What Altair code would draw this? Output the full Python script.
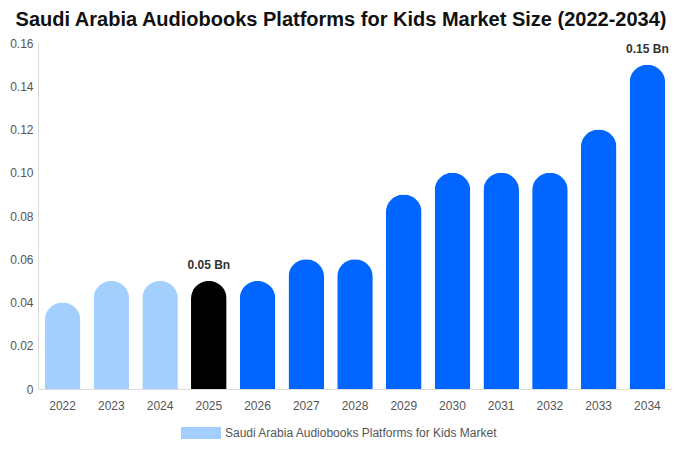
import altair as alt
import pandas as pd

years = ["2022", "2023", "2024", "2025", "2026", "2027", "2028", "2029", "2030", "2031", "2032", "2033", "2034"]
values = [0.04, 0.05, 0.05, 0.05, 0.05, 0.06, 0.06, 0.09, 0.10, 0.10, 0.10, 0.12, 0.15]
bar_colors = ["#a3cfff", "#a3cfff", "#a3cfff", "#000000", "#0066ff", "#0066ff", "#0066ff",
              "#0066ff", "#0066ff", "#0066ff", "#0066ff", "#0066ff", "#0066ff"]
labels = ["", "", "", "0.05 Bn", "", "", "", "", "", "", "", "", "0.15 Bn"]
series_name = "Saudi Arabia Audiobooks Platforms for Kids Market"

df = pd.DataFrame({"year": years, "value": values, "barcolor": bar_colors, "label": labels})
legend_df = pd.DataFrame({"year": [years[0]], "value": [0.0], "series": [series_name]})

FONT = "Liberation Sans"

x_enc = alt.X("year:N", sort=years,
              scale=alt.Scale(paddingInner=0.27, paddingOuter=0.14),
              axis=alt.Axis(title=None, labelAngle=0, ticks=False, domainColor="#dddddd",
                            labelColor="#555555", labelFontSize=12, labelPadding=11, labelFont=FONT))
y_enc = alt.Y("value:Q", scale=alt.Scale(domain=[0, 0.16], nice=False),
              axis=alt.Axis(title=None, values=[0, 0.02, 0.04, 0.06, 0.08, 0.10, 0.12, 0.14, 0.16],
                            labelExpr="datum.value == 0 ? '0' : format(datum.value, '.2f')",
                            grid=False, ticks=False, domainColor="#dddddd",
                            labelColor="#555555", labelFontSize=12, labelPadding=5, labelFont=FONT))

bars = alt.Chart(df).mark_bar(cornerRadiusTopLeft=18, cornerRadiusTopRight=18).encode(
    x=x_enc, y=y_enc, fill=alt.Fill("barcolor:N", scale=None)
)

text = alt.Chart(df).transform_filter("datum.label != ''").mark_text(
    dy=-16, fontWeight="bold", fontSize=12, font=FONT, color="#333333"
).encode(x=alt.X("year:N", sort=years), y="value:Q", text="label:N")

legend_layer = alt.Chart(legend_df).mark_bar().encode(
    x=alt.X("year:N", sort=years), y="value:Q",
    color=alt.Color("series:N", scale=alt.Scale(range=["#a3cfff"]),
                    legend=alt.Legend(title=None, orient="none", direction="horizontal",
                                      legendX=143, legendY=370, labelLimit=500,
                                      symbolType="M-1,-0.3L1,-0.3L1,0.3L-1,0.3Z",
                                      symbolSize=1600, symbolOpacity=1, symbolStrokeWidth=0,
                                      labelColor="#555555", labelFontSize=12, labelFont=FONT))
)

chart = alt.layer(bars, legend_layer, text).properties(
    width=634, height=346,
    title=alt.TitleParams(
        "Saudi Arabia Audiobooks Platforms for Kids Market Size (2022-2034)",
        fontSize=20, fontWeight="bold", font=FONT, color="#111111", dx=-14, offset=7
    ),
    autosize=alt.AutoSizeParams(type="none"),
    padding={"left": 30, "top": 35, "right": 0, "bottom": 50},
).configure_view(stroke=None)

chart.save("out.html", embed_options={"renderer": "svg", "actions": False})
